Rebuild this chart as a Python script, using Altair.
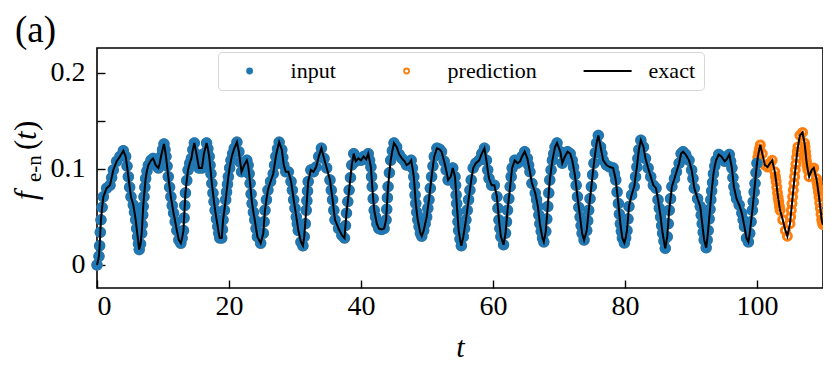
import altair as alt
import pandas as pd

# f_{e-n}(t), in segments of t
t_a = [0.0, 0.3, 0.4, 0.5, 0.6, 0.78, 0.96, 1.46, 1.97, 2.22,
       2.47, 2.98, 3.48, 3.99, 4.34, 4.55, 4.75, 4.95, 5.15, 5.5,
       5.68, 5.86, 6.01, 6.16, 6.28, 6.4, 6.6, 6.77, 6.85, 6.93,
       7.0, 7.12, 7.25, 7.37, 7.57, 7.78, 8.18, 8.5, 8.9, 9.3,
       9.5, 9.7, 9.93, 10.15, 10.3, 10.45, 10.62, 10.8, 11.0, 11.2,
       11.4, 11.6, 11.85, 12.1, 12.4, 12.7, 12.9, 13.1, 13.2, 13.3,
       13.4, 13.6, 13.8, 14.05, 14.3, 14.52, 14.75, 15.1, 15.27, 15.45,
       15.9, 16.05, 16.2, 16.6, 16.8, 17.0, 17.13, 17.27, 17.4, 17.57,
       17.73, 17.9, 18.1, 18.3, 18.45, 18.6, 18.9, 19.0, 19.1, 19.3,
       19.5, 19.63, 19.77, 19.9]
f_a = [0.0, 0.009, 0.020, 0.034, 0.047, 0.060, 0.071, 0.080, 0.083, 0.091,
       0.099, 0.108, 0.113, 0.119, 0.113, 0.103, 0.092, 0.081, 0.071, 0.0625,
       0.055, 0.047, 0.038, 0.0295, 0.022, 0.016, 0.022, 0.033, 0.042, 0.052,
       0.061, 0.071, 0.081, 0.090, 0.098, 0.104, 0.109, 0.111, 0.104, 0.101,
       0.106, 0.113, 0.120, 0.126, 0.120, 0.113, 0.103, 0.092, 0.081, 0.071,
       0.062, 0.054, 0.045, 0.036, 0.026, 0.0226, 0.028, 0.036, 0.049, 0.062,
       0.075, 0.088, 0.099, 0.106, 0.111, 0.120, 0.127, 0.115, 0.108, 0.101,
       0.101, 0.108, 0.116, 0.127, 0.121, 0.113, 0.104, 0.095, 0.085, 0.075,
       0.066, 0.057, 0.048, 0.040, 0.033, 0.028, 0.028, 0.037, 0.047, 0.057,
       0.068, 0.076, 0.084, 0.092]

t_b = [20.1, 20.3, 20.55, 20.8, 21.2, 21.5, 21.7, 21.9, 22.3, 22.7,
       22.9, 23.05, 23.2, 23.35, 23.5, 23.7, 23.9, 24.1, 24.3, 24.8,
       25.2, 25.32, 25.45, 25.67, 25.9, 26.3, 26.7, 26.9, 27.1, 27.35,
       27.6, 28.0, 28.15, 28.3, 28.6, 29.0, 29.4, 29.6, 29.8, 30.0,
       30.2, 30.35, 30.5, 30.9, 31.2, 31.4, 31.55, 31.7, 31.8, 31.9,
       32.0, 32.4, 32.8, 33.2, 33.6, 34.0, 34.4, 34.8, 35.3, 35.5,
       35.7, 35.88, 36.06, 36.6, 37.1, 37.5, 37.65, 37.8, 38.0, 38.2,
       38.4, 38.6, 38.9, 39.2, 39.6]
f_b = [0.101, 0.109, 0.116, 0.1215, 0.128, 0.118, 0.107, 0.097, 0.104, 0.109,
       0.104, 0.095, 0.085, 0.074, 0.064, 0.055, 0.047, 0.038, 0.0295, 0.0226,
       0.033, 0.045, 0.057, 0.068, 0.078, 0.087, 0.095, 0.104, 0.113, 0.121,
       0.128, 0.120, 0.112, 0.104, 0.097, 0.097, 0.087, 0.078, 0.068, 0.059,
       0.050, 0.043, 0.036, 0.024, 0.020, 0.0295, 0.043, 0.057, 0.067, 0.077,
       0.087, 0.099, 0.097, 0.102, 0.113, 0.1215, 0.111, 0.101, 0.0885, 0.078,
       0.068, 0.057, 0.047, 0.038, 0.031, 0.028, 0.041, 0.054, 0.066, 0.078,
       0.091, 0.104, 0.116, 0.108, 0.111]

t_c = [40.0, 40.4, 40.8, 41.1, 41.3, 41.5, 41.6, 41.7, 41.85, 42.0,
       42.2, 42.4, 42.7, 43.1, 43.5, 43.8, 43.9, 44.0, 44.1, 44.3,
       44.5, 44.75, 45.0, 45.4, 45.8, 46.2, 46.6, 46.9, 47.3, 47.6,
       47.8, 48.0, 48.1, 48.2, 48.3, 48.45, 48.6, 48.8, 49.0, 49.2,
       49.5, 49.72, 49.95, 50.12, 50.3, 50.5, 50.7, 50.9, 51.1, 51.5,
       51.9, 52.2, 52.6, 52.9, 53.2, 53.6, 53.9, 54.24, 54.33, 54.42,
       54.5, 54.6, 54.7, 54.8, 55.0, 55.2, 55.5, 55.7, 55.9, 56.1,
       56.3, 56.5, 56.7, 57.0, 57.4, 57.9, 58.3, 58.7, 59.0, 59.2,
       59.4, 59.8]
f_c = [0.109, 0.113, 0.110, 0.116, 0.109, 0.102, 0.092, 0.0816, 0.069, 0.057,
       0.050, 0.043, 0.038, 0.037, 0.038, 0.047, 0.058, 0.070, 0.0816, 0.096,
       0.109, 0.119, 0.127, 0.123, 0.115, 0.111, 0.108, 0.104, 0.106, 0.109,
       0.101, 0.092, 0.083, 0.073, 0.064, 0.055, 0.047, 0.040, 0.033, 0.030,
       0.036, 0.043, 0.050, 0.059, 0.068, 0.080, 0.092, 0.103, 0.113, 0.1215,
       0.1205, 0.118, 0.108, 0.099, 0.0885, 0.092, 0.101, 0.092, 0.083, 0.073,
       0.064, 0.055, 0.045, 0.036, 0.027, 0.020, 0.0295, 0.038, 0.047, 0.057,
       0.068, 0.078, 0.0885, 0.101, 0.106, 0.109, 0.116, 0.1215, 0.109, 0.099,
       0.090, 0.083]

t_d = [60.2, 60.6, 60.75, 60.9, 61.05, 61.2, 61.6, 61.9, 62.05, 62.2,
       62.4, 62.6, 62.75, 62.9, 63.3, 63.7, 64.1, 64.4, 64.8, 65.2,
       65.4, 65.6, 65.9, 66.4, 66.6, 66.8, 66.95, 67.1, 67.3, 67.5,
       67.7, 68.0, 68.15, 68.3, 68.45, 68.6, 68.8, 69.0, 69.2, 69.4,
       69.7, 70.2, 70.5, 70.9, 71.3, 71.7, 72.0, 72.2, 72.4, 72.6,
       72.8, 73.0, 73.2, 73.35, 73.5, 73.8, 74.2, 74.35, 74.5, 74.7,
       74.9, 75.1, 75.3, 75.5, 75.7, 75.96, 76.3, 76.5, 76.7, 77.2,
       77.7, 78.2, 78.4, 78.6, 78.8, 79.0, 79.15, 79.3, 79.45, 79.6,
       79.9]
f_d = [0.083, 0.071, 0.059, 0.047, 0.038, 0.0295, 0.021, 0.033, 0.045, 0.057,
       0.069, 0.0816, 0.092, 0.101, 0.109, 0.106, 0.108, 0.113, 0.118, 0.111,
       0.104, 0.097, 0.085, 0.075, 0.068, 0.061, 0.052, 0.043, 0.035, 0.028,
       0.024, 0.035, 0.048, 0.061, 0.075, 0.0885, 0.099, 0.109, 0.116, 0.123,
       0.127, 0.118, 0.106, 0.113, 0.118, 0.116, 0.109, 0.102, 0.094, 0.083,
       0.071, 0.060, 0.050, 0.041, 0.033, 0.026, 0.036, 0.046, 0.057, 0.069,
       0.0816, 0.094, 0.106, 0.117, 0.127, 0.135, 0.123, 0.116, 0.109, 0.104,
       0.102, 0.101, 0.095, 0.0885, 0.076, 0.064, 0.053, 0.043, 0.035, 0.028,
       0.023]

t_e = [80.1, 80.3, 80.45, 80.6, 81.0, 81.4, 81.6, 81.8, 81.95, 82.1,
       82.4, 82.8, 83.1, 83.5, 83.9, 84.3, 84.7, 85.0, 85.2, 85.4,
       85.55, 85.7, 85.9, 86.1, 86.4, 86.55, 86.7, 86.9, 87.1, 87.5,
       87.8, 88.2, 88.5, 88.8, 89.2, 89.7, 90.1, 90.3, 90.5, 91.0,
       91.4, 91.55, 91.7, 91.85, 92.0, 92.3, 92.45, 92.6, 92.75, 92.88,
       93.0, 93.13, 93.27, 93.4, 93.6, 93.8, 94.2, 94.6, 95.1, 95.4,
       95.8, 96.0, 96.2, 96.35, 96.5, 96.7, 96.9, 97.3, 97.7, 97.9,
       98.1, 98.4, 98.7, 98.9, 99.1, 99.3, 99.43, 99.57, 99.7, 99.85,
       100.0]
f_e = [0.028, 0.036, 0.048, 0.061, 0.073, 0.0816, 0.092, 0.102, 0.111, 0.120,
       0.130, 0.123, 0.111, 0.101, 0.092, 0.083, 0.080, 0.068, 0.059, 0.050,
       0.041, 0.033, 0.025, 0.0174, 0.0295, 0.043, 0.057, 0.069, 0.0816, 0.090,
       0.097, 0.106, 0.116, 0.118, 0.115, 0.109, 0.099, 0.090, 0.080, 0.069,
       0.061, 0.052, 0.043, 0.034, 0.026, 0.018, 0.026, 0.036, 0.048, 0.058,
       0.068, 0.077, 0.086, 0.095, 0.103, 0.109, 0.115, 0.113, 0.108, 0.110,
       0.115, 0.108, 0.101, 0.091, 0.0816, 0.075, 0.069, 0.0625, 0.054, 0.047,
       0.040, 0.028, 0.024, 0.033, 0.045, 0.057, 0.066, 0.076, 0.085, 0.096,
       0.106]

t_f = [100.12, 100.25, 100.37, 100.5, 100.8, 101.2, 101.6, 101.97, 102.3, 102.7,
       102.8, 102.9, 103.0, 103.1, 103.2, 103.3, 103.4, 103.5, 103.9, 104.3,
       104.6, 105.0, 105.1, 105.2, 105.3, 105.4, 105.5, 105.6, 105.7, 105.8,
       105.9, 106.0, 106.1, 106.2, 106.5, 106.9, 107.2, 107.27, 107.35, 107.42,
       107.5, 107.6, 107.7, 107.9, 108.3, 108.6, 109.0, 109.1, 109.2, 109.3,
       109.4, 109.5, 109.6, 109.7, 109.8, 109.9, 110.0]
f_f = [0.112, 0.117, 0.121, 0.125, 0.116, 0.104, 0.102, 0.106, 0.109, 0.097,
       0.092, 0.087, 0.081, 0.075, 0.070, 0.066, 0.061, 0.057, 0.047, 0.036,
       0.030, 0.043, 0.050, 0.057, 0.064, 0.071, 0.078, 0.085, 0.092, 0.099,
       0.105, 0.112, 0.118, 0.123, 0.135, 0.138, 0.127, 0.123, 0.118, 0.113,
       0.108, 0.103, 0.099, 0.092, 0.099, 0.101, 0.090, 0.086, 0.081, 0.076,
       0.071, 0.065, 0.059, 0.053, 0.047, 0.044, 0.042]

INPUT_END = 100.0
series_names = ["input", "prediction", "exact"]
series_stroke = ["#1f77b4", "#ff7f0e", "#000000"]
series_fill = ["#1f77b4", "transparent", "transparent"]
x_ticks = [0, 20, 40, 60, 80, 100]
y_ticks = [0, 0.05, 0.1, 0.15, 0.2]

t_vals = t_a + t_b + t_c + t_d + t_e + t_f
f_vals = f_a + f_b + f_c + f_d + f_e + f_f
assert len(t_vals) == len(f_vals), (len(t_vals), len(f_vals))

base = pd.DataFrame({"t": t_vals, "f": f_vals})
df_pred = base.assign(series="prediction")
df_in = base[base["t"] <= INPUT_END].assign(series="input")
df_ex = base.assign(series="exact")

SERIF = "Liberation Serif"
circle_path = "M-9.6,0M9.6,0M1,0A1,1,0,1,1,-1,0A1,1,0,1,1,1,0Z"
line_path = "M-9.6,0L9.6,0"

legend = alt.Legend(
    title=None, orient="none", legendX=121, legendY=4, direction="horizontal",
    padding=8, strokeColor="#d6d6d6", fillColor="white", cornerRadius=4,
    labelFont=SERIF, labelFontSize=22, labelColor="black",
    symbolSize=25, symbolStrokeWidth=1.8, symbolOffset=12.6, labelOffset=30,
    columnPadding=43,
)

x_enc = alt.X("t:Q", scale=alt.Scale(domain=[0, 110], nice=False, zero=False),
              axis=alt.Axis(values=x_ticks, title="t", format="d", offset=-8, tickSize=8,
                            labelPadding=4, titlePadding=12, titleFontStyle="italic",
                            titleFontSize=30, titleFontWeight="normal"))
y_enc = alt.Y("f:Q", scale=alt.Scale(domain=[-0.024, 0.226], nice=False, zero=False),
              axis=alt.Axis(values=y_ticks, title=None, offset=-8, tickSize=8, labelPadding=12,
                            labelExpr="abs(datum.value*10 - round(datum.value*10)) < 1e-6 ? format(datum.value, '.1~f') : ''"))
stroke_enc = alt.Stroke("series:N", scale=alt.Scale(domain=series_names, range=series_stroke), legend=legend)
fill_enc = alt.Fill("series:N", scale=alt.Scale(domain=series_names, range=series_fill), legend=legend)
shape_enc = alt.Shape("series:N", scale=alt.Scale(domain=series_names, range=[circle_path, circle_path, line_path]), legend=legend)

pred = alt.Chart(df_pred).mark_point(size=64, strokeWidth=3, filled=False, opacity=1).encode(
    x=x_enc, y=y_enc, stroke=stroke_enc, fill=fill_enc, shape=shape_enc)
inp = alt.Chart(df_in).mark_point(size=130, strokeWidth=0, filled=True, opacity=1).encode(
    x=x_enc, y=y_enc, stroke=stroke_enc, fill=fill_enc, shape=shape_enc)
line = alt.Chart(df_ex).mark_line(strokeWidth=2).encode(x=x_enc, y=y_enc, stroke=stroke_enc)

one = pd.DataFrame({"k": [0]})
def txt(s, x, y, size, style="normal"):
    return alt.Chart(one).mark_text(text=s, font=SERIF, fontSize=size, fontStyle=style, angle=270,
                                    align="left", baseline="alphabetic", color="black").encode(
        x=alt.value(x), y=alt.value(y))

ytitle = [
    txt("f", -61, 152, 31, "italic"),
    txt("e-n", -56, 134, 21),
    txt("(", -61, 102, 31),
    txt("t", -61, 92, 31, "italic"),
    txt(")", -61, 83, 31),
]
panel = alt.Chart(one).mark_text(text="(a)", font=SERIF, fontSize=37, align="left",
                                 baseline="alphabetic", color="black").encode(
    x=alt.value(-82), y=alt.value(-6))

chart = alt.layer(pred, inp, line, *ytitle, panel).properties(
    width=726, height=240,
    padding={"left": 89, "top": 40, "right": 0, "bottom": 76},
    autosize=alt.AutoSizeParams(type="none"),
).configure_view(stroke="black", strokeWidth=1.6).configure_axis(
    grid=False, domain=False, tickColor="black", tickWidth=1.4,
    labelFont=SERIF, labelFontSize=28, labelColor="black", labelOverlap=False,
    titleFont=SERIF, titleColor="black",
)

chart.save("out.html", embed_options={"renderer": "svg", "actions": False})
